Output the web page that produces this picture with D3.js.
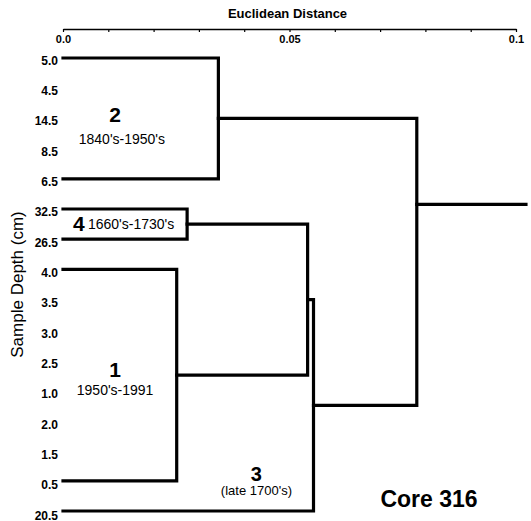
<!DOCTYPE html>
<html>
<head>
<meta charset="utf-8">
<script src="https://cdn.jsdelivr.net/npm/d3@7"></script>
<style>
  body { margin: 0; background: #fff; }
  text { font-family: Arial, "Liberation Sans", Helvetica, sans-serif; fill: #000; }
</style>
</head>
<body>
<svg id="chart" width="531" height="521"></svg>
<script>
// Sample depths in dendrogram order (top to bottom)
const leaves = ["5.0", "4.5", "14.5", "8.5", "6.5", "32.5", "26.5", "4.0",
                "3.5", "3.0", "2.5", "1.0", "2.0", "1.5", "0.5", "20.5"];

// First-level clusters, drawn as brackets between their outer samples
const clusterIds = ["2", "4", "1"];
const clusterFirst = ["5.0", "32.5", "4.0"];
const clusterLast = ["6.5", "26.5", "0.5"];
const clusterHeights = [0.0343, 0.0274, 0.0251];
const clusterPeriods = ["1840's-1950's", "1660's-1730's", "1950's-1991"];

// Later joins (distance at which two nodes merge)
const joinIds = ["41", "413", "root"];
const joinLeft = ["4", "41", "2"];
const joinRight = ["1", "20.5", "413"];
const joinHeights = [0.0540, 0.0553, 0.0781];
const rootTail = 0.1022;

// Group 3 is the single sample 20.5
const group3Label = "3";
const group3Period = "(late 1700's)";
const coreLabel = "Core 316";

// Axis
const tickValues = [0, 0.01, 0.02, 0.03, 0.04, 0.05, 0.06, 0.07, 0.08, 0.09, 0.1];
const labelValues = [0, 0.05, 0.1];
const labelTexts = ["0.0", "0.05", "0.1"];

const svg = d3.select("#chart");

const x = d3.scaleLinear().domain([0, 0.1]).range([63, 516]);
const y = d3.scalePoint().domain(leaves).range([58, 511]);

// Top axis
const axisY = 29;
const axis = d3.axisBottom(x)
    .tickValues(tickValues)
    .tickSize(3)
    .tickSizeOuter(0)
    .tickPadding(3)
    .tickFormat(d => {
        const i = labelValues.findIndex(v => Math.abs(v - d) < 1e-9);
        return i >= 0 ? labelTexts[i] : "";
    });

const gAxis = svg.append("g")
    .attr("transform", `translate(0, ${axisY})`)
    .call(axis);
gAxis.select(".domain").attr("stroke", "#000").attr("stroke-width", 1.6);
gAxis.selectAll(".tick line").attr("stroke", "#000").attr("stroke-width", 1.2);
gAxis.selectAll(".tick text")
    .attr("fill", "#000")
    .style("font-size", "11px")
    .style("font-weight", "bold")
    .style("font-family", "Arial, 'Liberation Sans', sans-serif");

svg.append("text")
    .attr("x", x(0.05) - 2)
    .attr("y", 18)
    .attr("text-anchor", "middle")
    .style("font-size", "13px")
    .style("font-weight", "bold")
    .text("Euclidean Distance");

// Leaf labels
svg.append("g")
    .selectAll("text")
    .data(leaves)
    .enter()
    .append("text")
    .attr("x", 58)
    .attr("y", (d, i) => y(d) + 2.5 + i * 0.12)
    .attr("dy", "0.35em")
    .attr("text-anchor", "end")
    .style("font-size", "12px")
    .style("font-weight", "bold")
    .text(d => d);

svg.append("text")
    .attr("transform", `translate(23, ${(y.range()[0] + y.range()[1]) / 2}) rotate(-90)`)
    .attr("text-anchor", "middle")
    .style("font-size", "17px")
    .text("Sample Depth (cm)");

// Node positions
const nodes = {};
leaves.forEach(l => { nodes[l] = {x: x(0), y: y(l)}; });

const links = svg.append("g")
    .attr("fill", "none")
    .attr("stroke", "#000")
    .attr("stroke-width", 3.2)
    .attr("stroke-linejoin", "miter")
    .attr("stroke-linecap", "square");

clusterIds.forEach((id, i) => {
    const y1 = y(clusterFirst[i]);
    const y2 = y(clusterLast[i]);
    const hx = x(clusterHeights[i]);
    nodes[id] = {x: hx, y: (y1 + y2) / 2};
    links.append("path")
        .attr("d", `M${x(0)},${y1}H${hx}V${y2}H${x(0)}`);
});

const rootStemAt = 0.3; // root stem drawn above the bracket midpoint
joinIds.forEach((id, i) => {
    const a = nodes[joinLeft[i]];
    const b = nodes[joinRight[i]];
    const hx = x(joinHeights[i]);
    const frac = id === "root" ? rootStemAt : 0.5;
    nodes[id] = {x: hx, y: a.y + (b.y - a.y) * frac};
    links.append("path")
        .attr("d", `M${a.x},${a.y}H${hx}V${b.y}H${b.x}`);
});

links.append("path")
    .attr("d", `M${nodes.root.x},${nodes.root.y}H${x(rootTail)}`);

// Group annotations
const ann = svg.append("g");

// group 2
ann.append("text")
    .attr("x", x(0.0115)).attr("y", nodes["2"].y + 4)
    .attr("text-anchor", "middle")
    .style("font-size", "21px").style("font-weight", "bold")
    .text(clusterIds[0]);
ann.append("text")
    .attr("x", x(0.013)).attr("y", nodes["2"].y + 26)
    .attr("text-anchor", "middle")
    .style("font-size", "14px")
    .text(clusterPeriods[0]);

// group 4 (inside the small bracket)
ann.append("text")
    .attr("x", x(0.0022)).attr("y", nodes["4"].y + 7)
    .style("font-size", "21px").style("font-weight", "bold")
    .text(clusterIds[1]);
ann.append("text")
    .attr("x", x(0.0055)).attr("y", nodes["4"].y + 5)
    .style("font-size", "14px")
    .text(clusterPeriods[1]);

// group 1
ann.append("text")
    .attr("x", x(0.0115)).attr("y", nodes["1"].y + 2)
    .attr("text-anchor", "middle")
    .style("font-size", "21px").style("font-weight", "bold")
    .text(clusterIds[2]);
ann.append("text")
    .attr("x", x(0.0115)).attr("y", nodes["1"].y + 20)
    .attr("text-anchor", "middle")
    .style("font-size", "14px")
    .text(clusterPeriods[2]);

// group 3
ann.append("text")
    .attr("x", x(0.0427)).attr("y", y("20.5") - 30)
    .attr("text-anchor", "middle")
    .style("font-size", "20px").style("font-weight", "bold")
    .text(group3Label);
ann.append("text")
    .attr("x", x(0.0427)).attr("y", y("20.5") - 16)
    .attr("text-anchor", "middle")
    .style("font-size", "13px")
    .text(group3Period);

svg.append("text")
    .attr("x", x(0.0808)).attr("y", 507)
    .attr("text-anchor", "middle")
    .style("font-size", "23px")
    .style("font-weight", "bold")
    .text(coreLabel);
</script>
</body>
</html>
